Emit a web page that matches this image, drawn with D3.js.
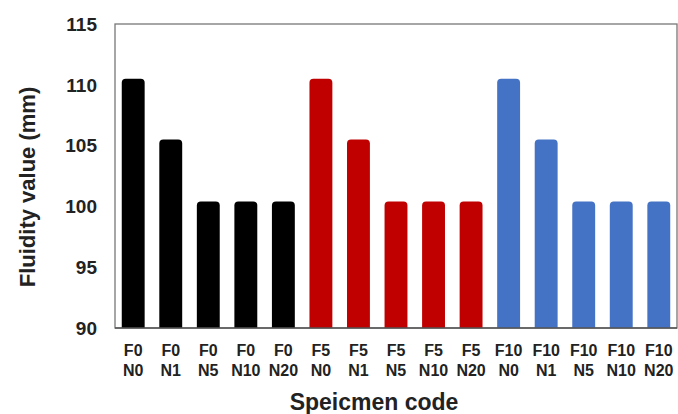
<!DOCTYPE html>
<html><head><meta charset="utf-8">
<script src="https://cdn.jsdelivr.net/npm/d3@7"></script>
<style>body{margin:0;background:#fff}svg{display:block}text{font-family:Arial,"Liberation Sans",sans-serif;font-weight:bold;fill:#222}</style>
</head><body>
<svg id="c" width="678" height="414"></svg>
<script>
const codesF = ["F0","F0","F0","F0","F0","F5","F5","F5","F5","F5","F10","F10","F10","F10","F10"];
const codesN = ["N0","N1","N5","N10","N20","N0","N1","N5","N10","N20","N0","N1","N5","N10","N20"];
const values = [110.5,105.5,100.4,100.4,100.4,110.5,105.5,100.4,100.4,100.4,110.5,105.5,100.4,100.4,100.4];
const groupColors = {"F0":"#000000","F5":"#C00000","F10":"#4472C4"};
const yTicks = [90,95,100,105,110,115];

const svg = d3.select("#c");
const m = {l:115, r:677, t:24, b:328};
const ids = values.map((v,i)=>i);
const x = d3.scaleBand().domain(ids).range([m.l,m.r]).paddingInner(0.39).paddingOuter(0.18);
const y = d3.scaleLinear().domain([90,115]).range([m.b,m.t]);

// frame
svg.append("rect").attr("x",m.l).attr("y",m.t).attr("width",m.r-m.l).attr("height",m.b-m.t)
  .attr("fill","none").attr("stroke","#777").attr("stroke-width",1.3);

// bars with rounded top corners
const r = 4;
svg.append("g").selectAll("path").data(ids).join("path")
  .attr("fill",i=>groupColors[codesF[i]])
  .attr("d",i=>{
    const x0=x(i), w=x.bandwidth(), y0=y(values[i]), y1=y(90);
    return `M${x0},${y1}V${y0+r}Q${x0},${y0} ${x0+r},${y0}H${x0+w-r}Q${x0+w},${y0} ${x0+w},${y0+r}V${y1}Z`;
  });

// bottom axis line
svg.append("line").attr("x1",m.l).attr("x2",m.r).attr("y1",m.b).attr("y2",m.b).attr("stroke","#555").attr("stroke-width",1.5);

// y tick labels
svg.append("g").selectAll("text").data(yTicks).join("text")
  .attr("x",97).attr("y",d=>y(d)).attr("dy","0.36em").attr("text-anchor","end")
  .attr("font-size",19).text(d=>d);

// x labels
const xl = svg.append("g").selectAll("text").data(ids).join("text")
  .attr("x",i=>x(i)+x.bandwidth()/2).attr("text-anchor","middle").attr("font-size",16);
xl.append("tspan").attr("x",i=>x(i)+x.bandwidth()/2).attr("y",356).text(i=>codesF[i]);
xl.append("tspan").attr("x",i=>x(i)+x.bandwidth()/2).attr("y",376).text(i=>codesN[i]);

// axis titles
svg.append("text").attr("transform","translate(35,187) rotate(-90)").attr("text-anchor","middle")
  .attr("font-size",22).text("Fluidity value (mm)");
svg.append("text").attr("x",374).attr("y",410).attr("text-anchor","middle")
  .attr("font-size",23).text("Speicmen code");
</script>
</body></html>
